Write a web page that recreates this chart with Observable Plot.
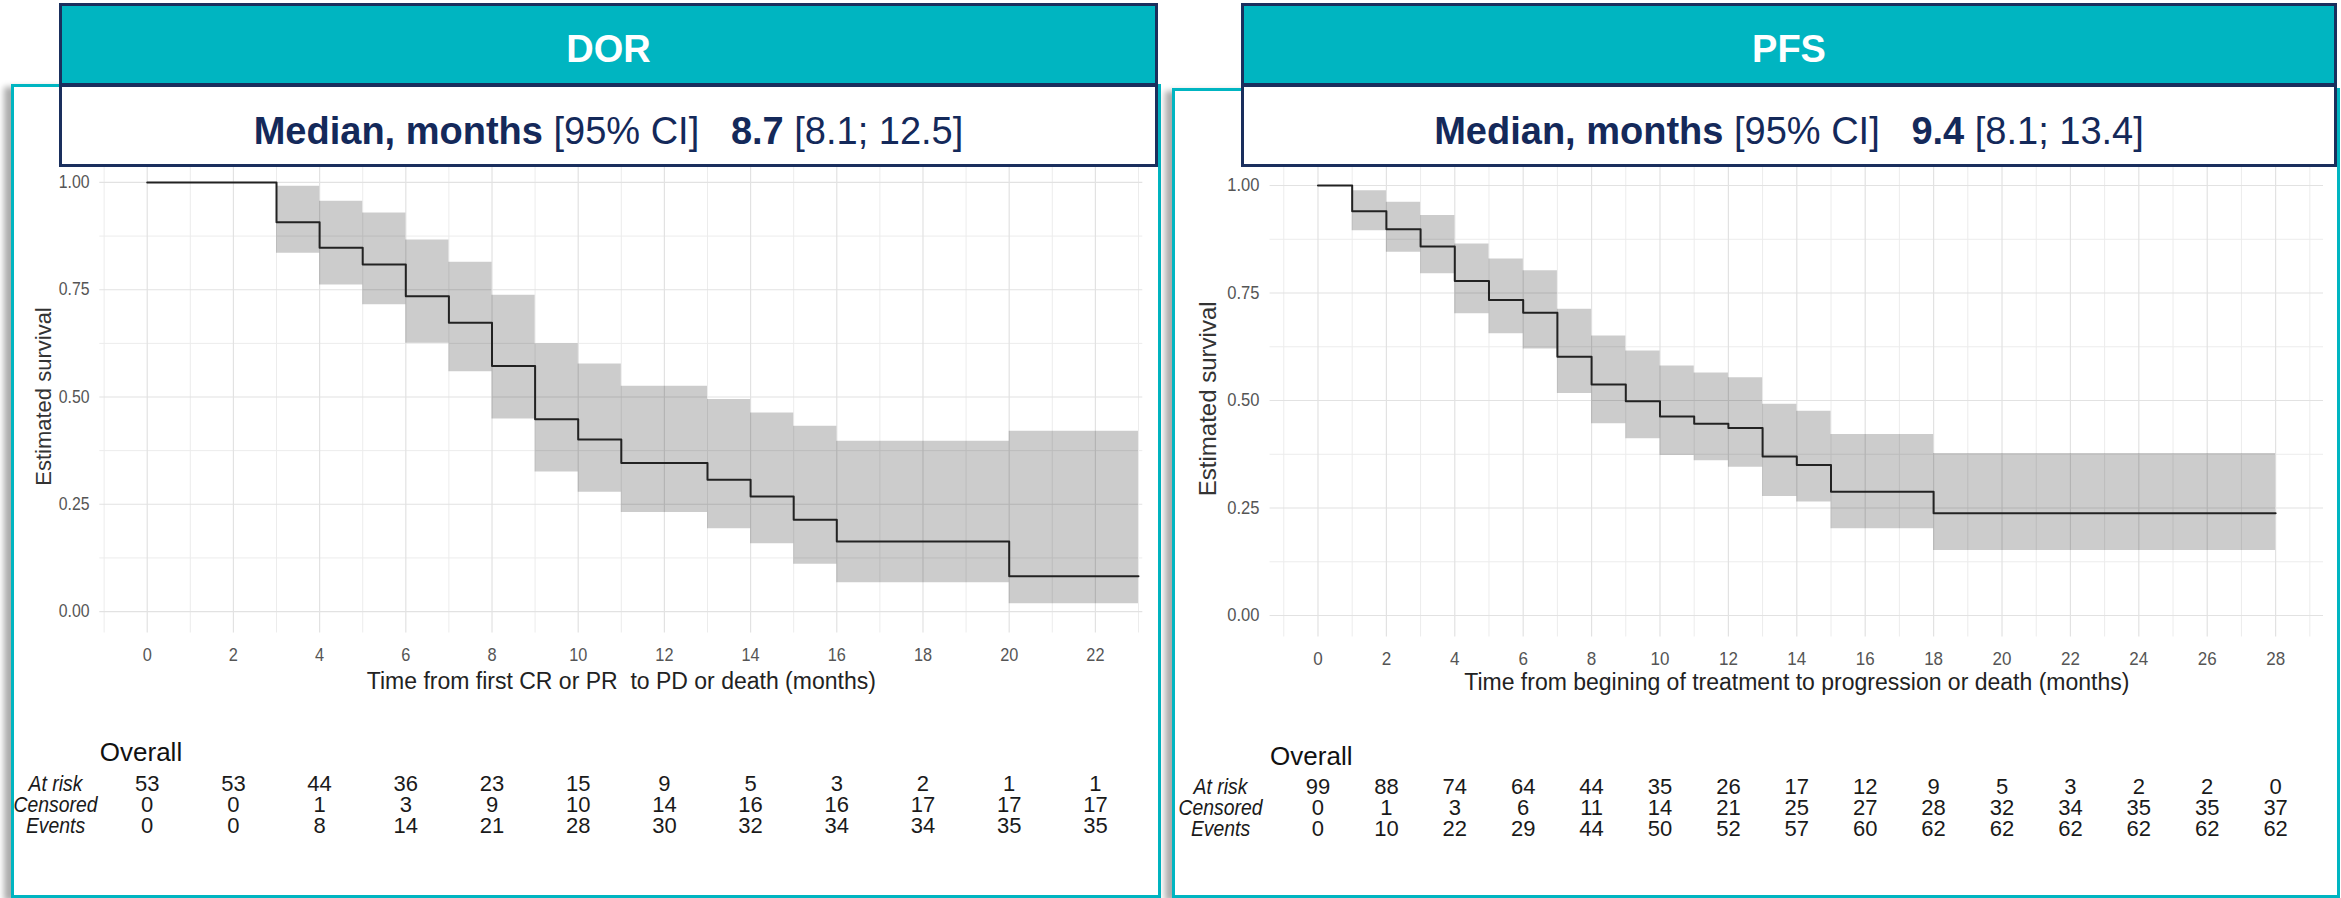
<!DOCTYPE html>
<html>
<head>
<meta charset="utf-8">
<script src="https://cdn.jsdelivr.net/npm/d3@7"></script>
<script src="https://cdn.jsdelivr.net/npm/@observablehq/plot@0.6"></script>
<style>
  html, body { margin: 0; padding: 0; background: #fff; }
  body { width: 2341px; height: 898px; position: relative; overflow: hidden;
         font-family: "Liberation Sans", Arial, Helvetica, sans-serif; }
  .frame { position: absolute; box-sizing: border-box; border: 3px solid #00b5c1; background: #fff;
           box-shadow: -7px 3px 6px rgba(0,0,0,0.33); z-index: 1; }
  .chart { position: absolute; z-index: 2; }
  .hdr { position: absolute; top: 3px; height: 164px; box-sizing: border-box;
         border: 3px solid #1a2f5d; background: #fff; z-index: 3; }
  .hdr .t { height: 77px; box-sizing: border-box; background: #00b5c1; color: #fff;
            font-weight: bold; font-size: 38px; text-align: center; padding-top: 10px; line-height: 67px; }
  .hdr .sep { height: 4px; background: #1a2f5d; }
  .hdr .m { height: 77px; box-sizing: border-box; color: #14295a; font-size: 38px; text-align: center;
            padding-top: 11px; line-height: 66px; white-space: pre; }
  .hdr .m b { font-weight: bold; }
</style>
</head>
<body>
<div class="frame" style="left:11px; top:84px; width:1150px; height:814px;"></div>
<div class="frame" style="left:1172px; top:88px; width:1168px; height:810px;"></div>

<div class="chart" id="dorPlot" style="left:0px; top:0px;"></div>
<div class="chart" id="dorTable" style="left:0px; top:730px;"></div>
<div class="chart" id="pfsPlot" style="left:1160px; top:0px;"></div>
<div class="chart" id="pfsTable" style="left:1160px; top:730px;"></div>

<div class="hdr" id="dorHdr" style="left:59px; width:1099px;"></div>
<div class="hdr" id="pfsHdr" style="left:1241px; width:1096px;"></div>

<script>
// ---------------- DATA ----------------
// Headers
const DOR_title = "DOR";
const DOR_median = ["8.7", "[8.1; 12.5]"];
const PFS_title = "PFS";
const PFS_median = ["9.4", "[8.1; 13.4]"];

// DOR Kaplan-Meier estimate (step times in months)
const DOR_time  = [0, 3, 4, 5, 6, 7, 8, 9, 10, 11, 13, 14, 15, 16, 20, 23];
const DOR_surv  = [1, 0.907, 0.848, 0.809, 0.735, 0.673, 0.572, 0.448, 0.401, 0.346, 0.307, 0.268, 0.214, 0.163, 0.082, 0.082];
const DOR_lower = [1, 0.835, 0.761, 0.715, 0.625, 0.559, 0.449, 0.325, 0.278, 0.231, 0.193, 0.158, 0.110, 0.067, 0.018, 0.018];
const DOR_upper = [1, 0.991, 0.956, 0.929, 0.866, 0.814, 0.737, 0.624, 0.577, 0.525, 0.494, 0.463, 0.432, 0.397, 0.420, 0.420];

// PFS Kaplan-Meier estimate
const PFS_time  = [0, 1, 2, 3, 4, 5, 6, 7, 8, 9, 10, 11, 12, 13, 14, 15, 18, 28];
const PFS_surv  = [1, 0.940, 0.898, 0.858, 0.778, 0.734, 0.704, 0.602, 0.537, 0.498, 0.463, 0.446, 0.436, 0.370, 0.350, 0.288, 0.238, 0.238];
const PFS_lower = [1, 0.895, 0.845, 0.795, 0.702, 0.655, 0.620, 0.516, 0.446, 0.411, 0.372, 0.360, 0.345, 0.277, 0.264, 0.202, 0.151, 0.151];
const PFS_upper = [1, 0.988, 0.961, 0.930, 0.864, 0.829, 0.802, 0.712, 0.650, 0.615, 0.580, 0.564, 0.553, 0.491, 0.475, 0.421, 0.377, 0.377];

// Tick labels
const DOR_ticks = [0, 2, 4, 6, 8, 10, 12, 14, 16, 18, 20, 22];
const PFS_ticks = [0, 2, 4, 6, 8, 10, 12, 14, 16, 18, 20, 22, 24, 26, 28];
const Y_ticks = [0, 0.25, 0.5, 0.75, 1];
const Y_minor = [0.125, 0.375, 0.625, 0.875];
const DOR_minor = [-1, 1, 3, 5, 7, 9, 11, 13, 15, 17, 19, 21, 23];
const PFS_minor = [-1, 1, 3, 5, 7, 9, 11, 13, 15, 17, 19, 21, 23, 25, 27, 29];

// Axis labels
const Y_title = "Estimated survival";
const DOR_xlabel = "Time from first CR or PR  to PD or death (months)";
const PFS_xlabel = "Time from begining of treatment to progression or death (months)";

// Risk tables
const ROWS = ["At risk", "Censored", "Events"];
const DOR_atRisk   = [53, 53, 44, 36, 23, 15, 9, 5, 3, 2, 1, 1];
const DOR_censored = [0, 0, 1, 3, 9, 10, 14, 16, 16, 17, 17, 17];
const DOR_events   = [0, 0, 8, 14, 21, 28, 30, 32, 34, 34, 35, 35];
const PFS_atRisk   = [99, 88, 74, 64, 44, 35, 26, 17, 12, 9, 5, 3, 2, 2, 0];
const PFS_censored = [0, 1, 3, 6, 11, 14, 21, 25, 27, 28, 32, 34, 35, 35, 37];
const PFS_events   = [0, 10, 22, 29, 44, 50, 52, 57, 60, 62, 62, 62, 62, 62, 62];

// ---------------- BUILD ----------------
const FONT = '"Liberation Sans", Arial, Helvetica, sans-serif';
const STYLE = {fontFamily: FONT, background: "transparent", overflow: "visible", maxWidth: "none"};

function header(el, title, med) {
  el.innerHTML = `<div class="t">${title}</div><div class="sep"></div>` +
    `<div class="m"><b>Median, months</b> [95% CI]   <b>${med[0]}</b> ${med[1]}</div>`;
}
header(document.getElementById("dorHdr"), DOR_title, DOR_median);
header(document.getElementById("pfsHdr"), PFS_title, PFS_median);

function kmRows(time, surv, lower, upper) {
  return time.map((t, i) => ({time: t, surv: surv[i], lower: lower[i], upper: upper[i]}));
}

function kmPlot(o) {
  return Plot.plot({
    width: o.width, height: o.height,
    marginLeft: o.mL, marginRight: o.mR, marginTop: o.mT, marginBottom: o.mB,
    style: STYLE,
    x: {domain: o.xDomain, axis: null},
    y: {domain: [-0.05, 1.05], axis: null},
    marks: [
      Plot.gridX(o.minor, {stroke: "#ececec", strokeOpacity: 1, strokeWidth: 1}),
      Plot.gridY(Y_minor, {stroke: "#ececec", strokeOpacity: 1, strokeWidth: 1}),
      Plot.gridX(o.ticks, {stroke: "#e2e2e2", strokeOpacity: 1, strokeWidth: 1.2}),
      Plot.gridY(Y_ticks, {stroke: "#e2e2e2", strokeOpacity: 1, strokeWidth: 1.2}),
      Plot.areaY(o.rows, {x: "time", y1: "lower", y2: "upper", curve: "step-after", fill: "#000", fillOpacity: 0.2}),
      Plot.line(o.rows, {x: "time", y: "surv", curve: "step-after", stroke: "#222", strokeWidth: 2}),
      Plot.axisX(o.ticks, {tickSize: 0, tickPadding: 14.5, fontSize: 18.5, fill: "#555", label: null}),
      Plot.axisY(Y_ticks, {tickSize: 0, tickPadding: o.yPad, tickFormat: d3.format(".2f"), fontSize: 18, fill: "#555", label: null}),
      Plot.text([o.xLabel], {text: d => d, frameAnchor: "bottom", lineAnchor: "middle", dy: o.xLabelDy,
        fontSize: 23, fill: "#222", ariaLabel: "x-title"}),
      Plot.text([Y_title], {text: d => d, frameAnchor: "left", rotate: -90, dx: o.yTitleDx, dy: o.yTitleDy,
        lineAnchor: "middle", textAnchor: "middle", fontSize: o.yTitleSize, fill: "#333", ariaLabel: "y-title"})
    ]
  });
}

function riskPlot(o) {
  const data = [];
  o.ticks.forEach((t, i) => {
    data.push({time: t, row: ROWS[0], value: o.atRisk[i]});
    data.push({time: t, row: ROWS[1], value: o.censored[i]});
    data.push({time: t, row: ROWS[2], value: o.events[i]});
  });
  return Plot.plot({
    width: o.width, height: 120,
    marginLeft: o.mL, marginRight: o.mR, marginTop: 0, marginBottom: 0,
    style: STYLE,
    x: {domain: o.xDomain, axis: null},
    y: {type: "point", domain: ROWS, range: o.yRange, padding: 0, axis: null},
    marks: [
      Plot.text(data, {x: "time", y: "row", text: d => String(d.value), fontSize: 22, fill: "#1a1a1a", ariaLabel: "risk-values"}),
      Plot.axisY(ROWS, {tickSize: 0, tickPadding: o.labelPad, textAnchor: "middle", fontStyle: "italic",
        fontSize: 22, fill: "#1a1a1a", label: null}),
      Plot.text(["Overall"], {text: d => d, frameAnchor: "top-left", textAnchor: "start", lineAnchor: "middle",
        dy: o.overallDy, fontSize: 26, fill: "#111", ariaLabel: "risk-title"})
    ]
  });
}

function condense(svg, selector, factor, target) {
  svg.querySelectorAll(selector).forEach(t => {
    const L = t.getComputedTextLength();
    if (!L) return;
    t.setAttribute("textLength", (target != null ? target : L * factor).toFixed(1));
    t.setAttribute("lengthAdjust", "spacingAndGlyphs");
  });
}

// DOR
const dorSvg = kmPlot({
  rows: kmRows(DOR_time, DOR_surv, DOR_lower, DOR_upper),
  width: 1160, height: 710, mL: 99.3, mR: 17.7, mT: 160.5, mB: 77.5,
  xDomain: [-1.1, 23.1], ticks: DOR_ticks, minor: DOR_minor, yPad: 10.3,
  xLabel: DOR_xlabel, xLabelDy: 48.5, yTitleDx: -56.3, yTitleDy: -0.5, yTitleSize: 22
});
document.getElementById("dorPlot").appendChild(dorSvg);
condense(dorSvg, 'g[aria-label$="tick label"] text', 0.88);
condense(dorSvg, 'g[aria-label="x-title"] text', 1, 439);
condense(dorSvg, 'g[aria-label="y-title"] text', 1, 202);

const dorTab = riskPlot({
  ticks: DOR_ticks, atRisk: DOR_atRisk, censored: DOR_censored, events: DOR_events,
  width: 1160, mL: 99.3, mR: 17.7, xDomain: [-1.1, 23.1], yRange: [53, 95], labelPad: 44.3, overallDy: 22
});
document.getElementById("dorTable").appendChild(dorTab);
condense(dorTab, 'g[aria-label="risk-values"] text', 0.88);
condense(dorTab, 'g[aria-label$="tick label"] text', 0.88);
condense(dorTab, 'g[aria-label="risk-title"] text', 0.93);

// PFS
const pfsSvg = kmPlot({
  rows: kmRows(PFS_time, PFS_surv, PFS_lower, PFS_upper),
  width: 1181, height: 710, mL: 109.6, mR: 18, mT: 163.5, mB: 73.5,
  xDomain: [-1.4, 29.4], ticks: PFS_ticks, minor: PFS_minor, yPad: 10.6,
  xLabel: PFS_xlabel, xLabelDy: 45.5, yTitleDx: -61.6, yTitleDy: -1.7, yTitleSize: 24
});
document.getElementById("pfsPlot").appendChild(pfsSvg);
condense(pfsSvg, 'g[aria-label$="tick label"] text', 0.92);
condense(pfsSvg, 'g[aria-label="x-title"] text', 1, 634);
condense(pfsSvg, 'g[aria-label="y-title"] text', 1, 203);

const pfsTab = riskPlot({
  ticks: PFS_ticks, atRisk: PFS_atRisk, censored: PFS_censored, events: PFS_events,
  width: 1181, mL: 109.6, mR: 18, xDomain: [-1.4, 29.4], yRange: [56, 98], labelPad: 49.6, overallDy: 26
});
document.getElementById("pfsTable").appendChild(pfsTab);
condense(pfsTab, 'g[aria-label="risk-values"] text', 0.88);
condense(pfsTab, 'g[aria-label$="tick label"] text', 0.88);
condense(pfsTab, 'g[aria-label="risk-title"] text', 0.93);
</script>
</body>
</html>
